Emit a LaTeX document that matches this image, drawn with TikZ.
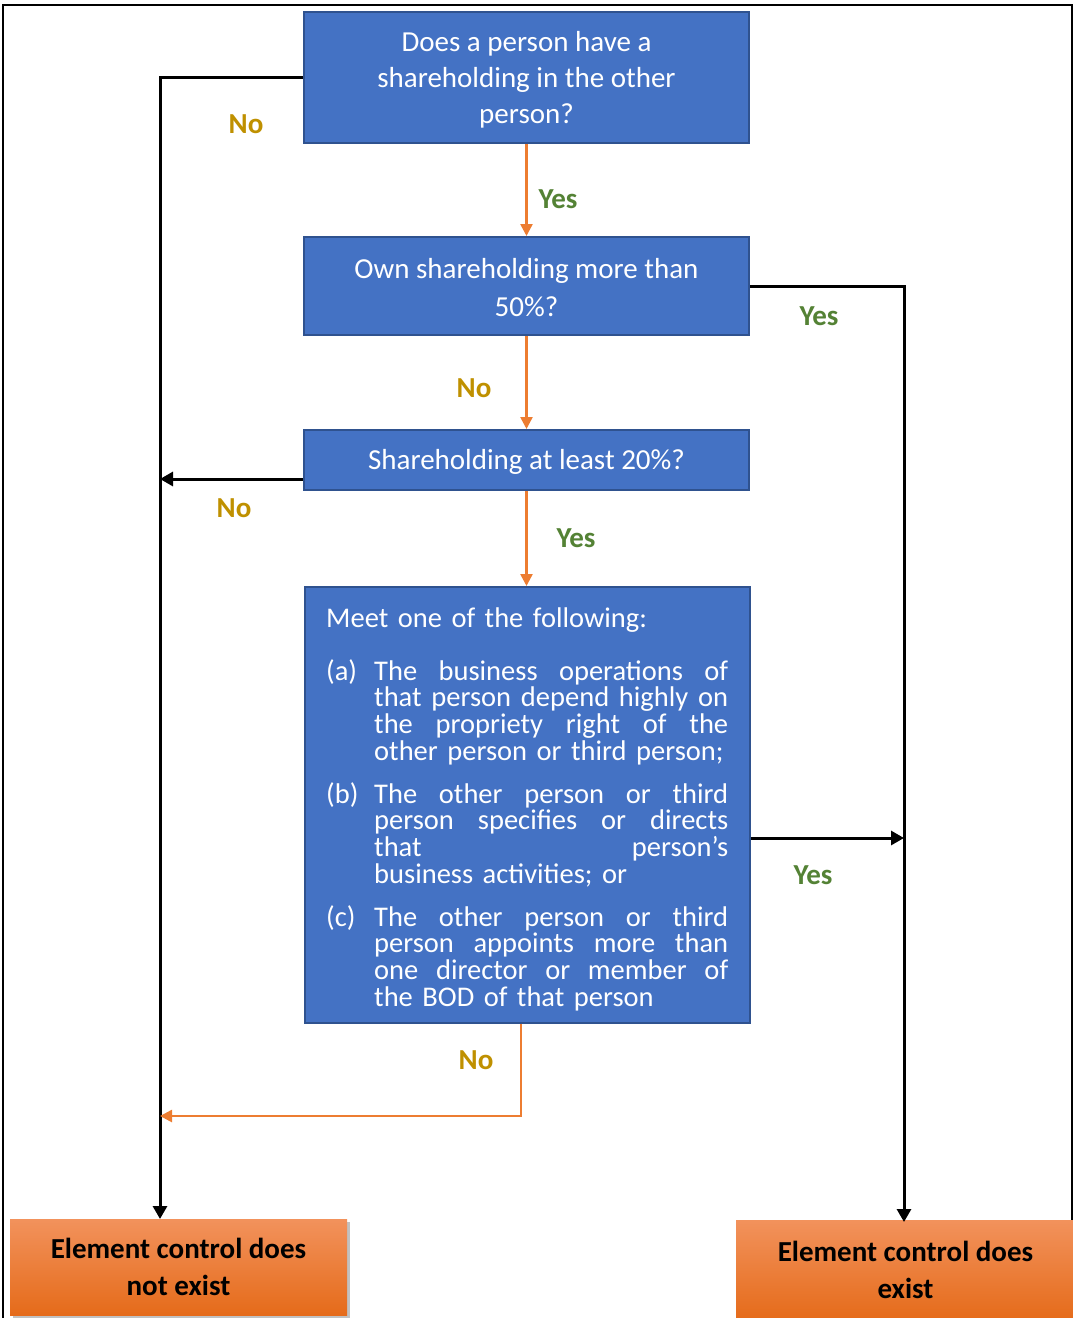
\documentclass[tikz,border=0pt]{standalone}
\usepackage{fontspec}
\setmainfont{Carlito}
\usetikzlibrary{arrows.meta,calc,shadows}
\definecolor{boxblue}{HTML}{4472C4}
\definecolor{boxedge}{HTML}{2F528F}
\definecolor{flow}{HTML}{ED7D31}
\definecolor{yesgreen}{HTML}{548235}
\definecolor{nogold}{HTML}{BF9000}
\definecolor{resulttop}{HTML}{F2925C}
\definecolor{resultbot}{HTML}{E56B1A}
% lines of the justified list in the last question box
\newcommand\stretchline[1]{\makebox[354pt][s]{\spaceskip=\fontdimen2\font plus 1fil\relax #1}}
\newcommand\bodylabel[2]{\makebox[48pt][l]{#1}\stretchline{#2}}
\newcommand\bodyfull[1]{\hspace*{48pt}\stretchline{#1}}
\newcommand\bodylast[1]{\hspace*{48pt}#1}
\begin{document}
\begin{tikzpicture}[x=1pt,y=-1pt,
  question/.style={draw=boxedge, fill=boxblue, line width=2pt, text=white,
    minimum width=445pt, inner sep=0pt, align=center,
    font=\fontsize{29}{36}\selectfont},
  qtext/.style={text=white, inner sep=0pt, align=center,
    font=\fontsize{29}{36}\selectfont},
  listtext/.style={text=white, text width=402pt, align=left, inner sep=0pt,
    font=\fontsize{28.5}{26.7}\selectfont},
  result/.style={top color=resulttop, bottom color=resultbot, draw=none,
    inner sep=0pt, align=center, font=\fontsize{29}{37}\selectfont\bfseries,
    drop shadow={shadow xshift=3pt, shadow yshift=-3pt, opacity=0.35, fill=black!70}},
  blackflow/.style={draw=black, line width=3pt, -{Triangle[length=13pt,width=14pt]}},
  orangeflow/.style={draw=flow, line width=2.5pt, -{Triangle[length=12pt,width=12pt]}},
  yeslabel/.style={text=yesgreen, font=\fontsize{29}{35}\selectfont\bfseries},
  nolabel/.style={text=nogold, font=\fontsize{29}{35}\selectfont\bfseries}]

\useasboundingbox (0,0) rectangle (1073,1318);

% outer frame
\draw[line width=2pt] (2.5,4.5) rectangle (1071.5,1340);

% question boxes
\node[question, minimum height=131pt] (b1) at (526.5,77.5) {};
\node[question, minimum height=98pt] (b2) at (526.5,286) {};
\node[question, minimum height=60pt] (b3) at (526.5,460) {};
\node[question, minimum height=436pt] (b4) at (527.5,805) {};

% question texts
\node[qtext] (b1t) at (526.5,79.5) {Does a person have a\\shareholding in the other\\person?};
\node[qtext, font=\fontsize{29}{38}\selectfont] (b2t) at (526.5,288) {Own shareholding more than\\50\%?};
\node[qtext] (b3t) at (526.5,462) {Shareholding at least 20\%?};
\node[listtext, anchor=base west] (b4t) at (326,627) {%
Meet one of the following:\\[26.3pt]
\bodylabel{(a)}{The business operations of}\\
\bodyfull{that person depend highly on}\\
\bodyfull{the propriety right of the}\\
\bodylast{other person or third person;}\\[16.3pt]
\bodylabel{(b)}{The other person or third}\\
\bodyfull{person specifies or directs}\\
\bodyfull{that person’s}\\
\bodylast{business activities; or}\\[16.3pt]
\bodylabel{(c)}{The other person or third}\\
\bodyfull{person appoints more than}\\
\bodyfull{one director or member of}\\
\bodylast{the BOD of that person}};

% outcome boxes
\node[result, minimum width=337pt, minimum height=96pt] (noctl) at (178.5,1267)
  {Element control does\\not exist};
\node[result, minimum width=339pt, minimum height=100pt] (ctl) at (905.5,1270)
  {Element control does\\exist};

% junction points on the two trunk lines
\coordinate (ltop) at (160,1219);
\coordinate (rtop) at (904,1222);
\coordinate (b3l) at ($(b3.west)+(0,19)$);
\coordinate (b4r) at ($(b4.east)+(0,33)$);
\coordinate (b4s) at ($(b4.south)+(-6.5,0)$);
\coordinate (lmid) at (160,1116);

% connectors
\draw[blackflow] (b1.west) -| (ltop);
\draw[blackflow] (b2.east) -| (rtop);
\draw[blackflow] (b3l) -- (b3l -| ltop);
\draw[blackflow] (b4r) -- (b4r -| rtop);
\draw[orangeflow] (b1.south) -- (b2.north);
\draw[orangeflow] (b2.south) -- (b3.north);
\draw[orangeflow] (b3.south) -- (b4.north -| b3.south);
\draw[orangeflow] (b4s) |- (lmid);

% branch labels
\node[nolabel] (n1) at (246,124) {No};
\node[yeslabel] (y1) at (558,199) {Yes};
\node[yeslabel] (y2) at (819,316) {Yes};
\node[nolabel] (n2) at (474,388) {No};
\node[nolabel] (n3) at (234,508) {No};
\node[yeslabel] (y3) at (576,538) {Yes};
\node[yeslabel] (y4) at (813,875) {Yes};
\node[nolabel] (n4) at (476,1060) {No};
\end{tikzpicture}
\end{document}
